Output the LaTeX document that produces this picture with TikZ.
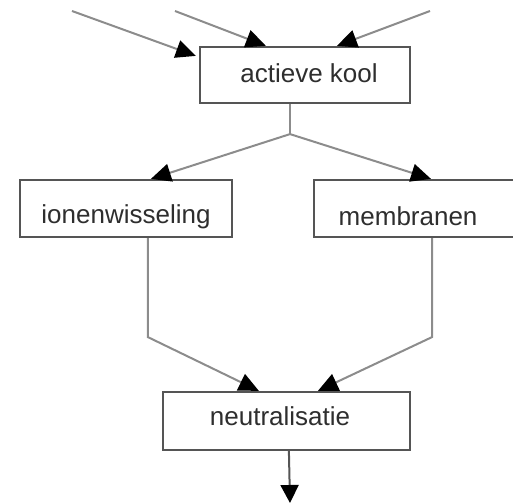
\documentclass[tikz,border=0pt]{standalone}
\usepackage{fontspec}
\setmainfont{Liberation Sans}
\usetikzlibrary{arrows.meta,calc}
\definecolor{boxline}{HTML}{555555}
\definecolor{conn}{HTML}{8C8C8C}
\definecolor{txt}{HTML}{2E2E2E}
\tikzset{
  box/.style={draw=boxline, line width=2.2pt, fill=white, rectangle, inner sep=0pt,
              text=txt, font=\fontsize{26}{30}\selectfont},
  conline/.style={draw=conn, line width=2pt,
              -{Triangle[length=20pt,width=18pt,color=black]}},
}
\begin{document}
\begin{tikzpicture}[x=1pt,y=-1pt]
\useasboundingbox (0,0) rectangle (513,503);
% boxes
\node[box, minimum width=210, minimum height=56, text height=19, text depth=5] (ak) at (305,75) {\hspace*{8pt}actieve kool};
\node[box, minimum width=212, minimum height=57, text height=30, text depth=0] (ion) at (126,208.5) {ionenwisseling};
\node[box, minimum width=220, minimum height=57, text height=33, text depth=0, anchor=west] (mem) at (313,208.5) {\hspace*{-32pt}membranen};
\node[box, minimum width=247, minimum height=58, text height=19, text depth=11] (neu) at (286.5,421) {\hspace*{-13pt}neutralisatie};
% free ends
\coordinate (s1) at (72,11);
\coordinate (s2) at (175,11);
\coordinate (s3) at (430,11);
\coordinate (out) at (290,503);
% incoming arrows
\draw[conline] (s1) -- ($(ak.north west)+(-3,10)$);
\draw[conline] (s2) -- ($(ak.north west)+(67,0)$);
\draw[conline] (s3) -- ($(ak.north west)+(138,0)$);
% split
\draw[draw=conn, line width=2pt] ($(ak.south)+(-15,0)$) -- ($(ak.south)+(-15,30)$) coordinate (j);
\draw[conline] (j) -- ($(ion.north west)+(132,0)$);
\draw[conline] (j) -- ($(mem.north west)+(118,0)$);
% merge
\draw[conline] ($(ion.south west)+(129,0)$) -- ++(0,99) -- ($(neu.north west)+(97,0)$);
\draw[conline] ($(mem.south west)+(119,0)$) -- ++(0,99) -- ($(neu.north west)+(156,0)$);
% output
\draw[draw=boxline, line width=2pt, -{Triangle[length=18pt,width=18pt,color=black]}] ($(neu.south west)+(127,0)$) -- (out);
\end{tikzpicture}
\end{document}
